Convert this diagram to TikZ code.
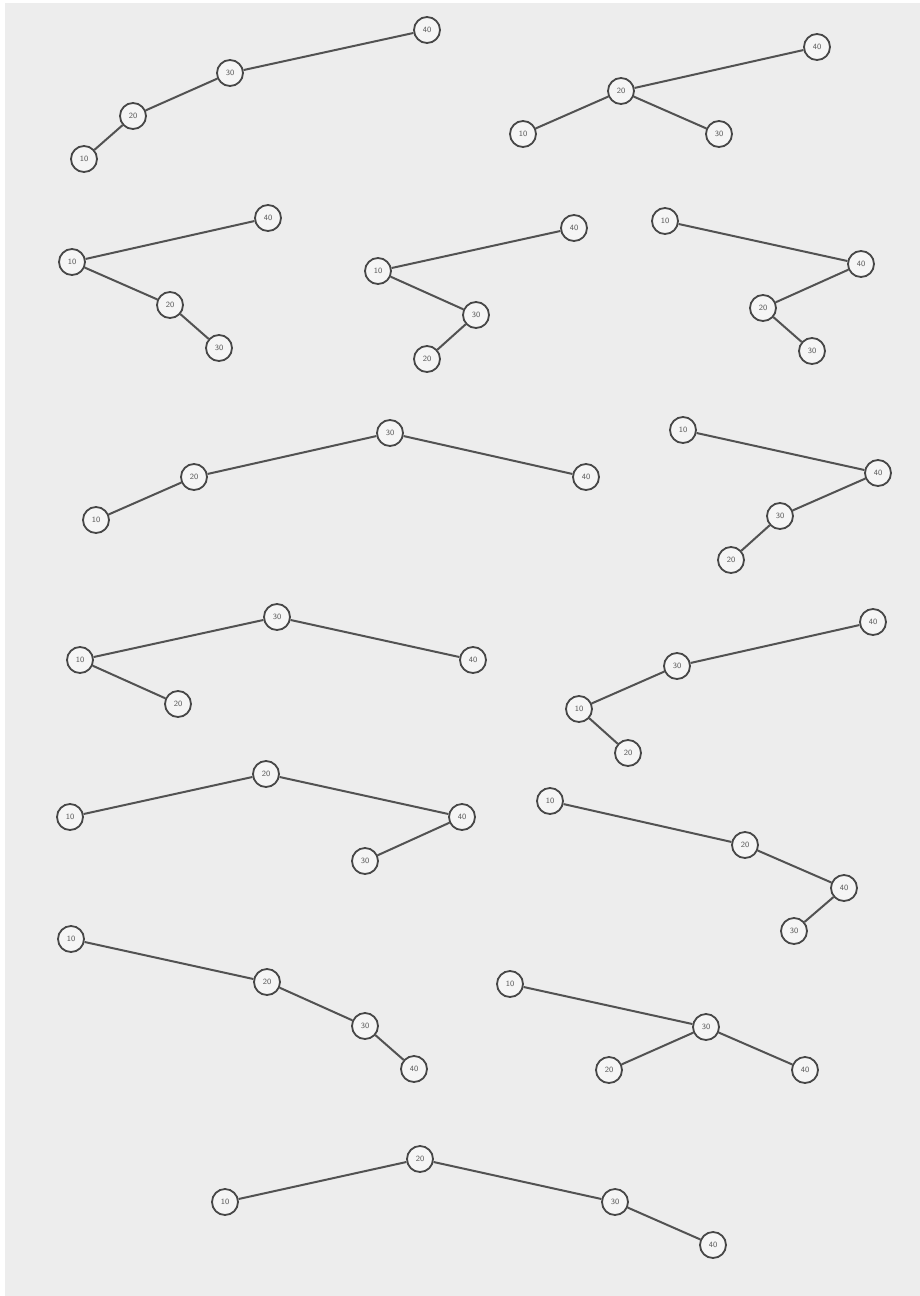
\documentclass[tikz,border=0pt]{standalone}
\begin{document}
\begin{tikzpicture}[x=1pt,y=-1pt,
  nd/.style={circle,draw=black!72,fill=black!4,line width=1.8pt,minimum size=26pt,inner sep=0pt,font=\sffamily\fontsize{8}{8}\selectfont,text=black!65},
  ed/.style={draw=black!68,line width=2pt}]
\fill[white] (0,0) rectangle (920,1296);
\fill[black!7] (5,3) rectangle (920,1296);
\useasboundingbox (0,0) rectangle (920,1296);
% tree 1
\node[nd] (a40) at (427,30) {40};
\node[nd] (a30) at (230,73) {30};
\node[nd] (a20) at (133,116) {20};
\node[nd] (a10) at (84,159) {10};
\draw[ed] (a40)--(a30) (a30)--(a20) (a20)--(a10);
% tree 2
\node[nd] (b40) at (817,47) {40};
\node[nd] (b20) at (621,91) {20};
\node[nd] (b10) at (523,134) {10};
\node[nd] (b30) at (719,134) {30};
\draw[ed] (b40)--(b20) (b20)--(b10) (b20)--(b30);
% tree 3
\node[nd] (c40) at (268,218) {40};
\node[nd] (c10) at (72,262) {10};
\node[nd] (c20) at (170,305) {20};
\node[nd] (c30) at (219,348) {30};
\draw[ed] (c40)--(c10) (c10)--(c20) (c20)--(c30);
% tree 4
\node[nd] (d40) at (574,228) {40};
\node[nd] (d10) at (378,271) {10};
\node[nd] (d30) at (476,315) {30};
\node[nd] (d20) at (427,359) {20};
\draw[ed] (d40)--(d10) (d10)--(d30) (d30)--(d20);
% tree 5
\node[nd] (e10) at (665,221) {10};
\node[nd] (e40) at (861,264) {40};
\node[nd] (e20) at (763,308) {20};
\node[nd] (e30) at (812,351) {30};
\draw[ed] (e10)--(e40) (e40)--(e20) (e20)--(e30);
% tree 6
\node[nd] (f30) at (390,433) {30};
\node[nd] (f20) at (194,477) {20};
\node[nd] (f10) at (96,520) {10};
\node[nd] (f40) at (586,477) {40};
\draw[ed] (f30)--(f20) (f20)--(f10) (f30)--(f40);
% tree 7
\node[nd] (g10) at (683,430) {10};
\node[nd] (g40) at (878,473) {40};
\node[nd] (g30) at (780,516) {30};
\node[nd] (g20) at (731,560) {20};
\draw[ed] (g10)--(g40) (g40)--(g30) (g30)--(g20);
% tree 8
\node[nd] (h30) at (277,617) {30};
\node[nd] (h10) at (80,660) {10};
\node[nd] (h20) at (178,704) {20};
\node[nd] (h40) at (473,660) {40};
\draw[ed] (h30)--(h10) (h10)--(h20) (h30)--(h40);
% tree 9
\node[nd] (i40) at (873,622) {40};
\node[nd] (i30) at (677,666) {30};
\node[nd] (i10) at (579,709) {10};
\node[nd] (i20) at (628,753) {20};
\draw[ed] (i40)--(i30) (i30)--(i10) (i10)--(i20);
% tree 10
\node[nd] (j20) at (266,774) {20};
\node[nd] (j10) at (70,817) {10};
\node[nd] (j40) at (462,817) {40};
\node[nd] (j30) at (365,861) {30};
\draw[ed] (j20)--(j10) (j20)--(j40) (j40)--(j30);
% tree 11
\node[nd] (k10) at (550,801) {10};
\node[nd] (k20) at (745,845) {20};
\node[nd] (k40) at (844,888) {40};
\node[nd] (k30) at (794,931) {30};
\draw[ed] (k10)--(k20) (k20)--(k40) (k40)--(k30);
% tree 12
\node[nd] (l10) at (71,939) {10};
\node[nd] (l20) at (267,982) {20};
\node[nd] (l30) at (365,1026) {30};
\node[nd] (l40) at (414,1069) {40};
\draw[ed] (l10)--(l20) (l20)--(l30) (l30)--(l40);
% tree 13
\node[nd] (m10) at (510,984) {10};
\node[nd] (m30) at (706,1027) {30};
\node[nd] (m20) at (609,1070) {20};
\node[nd] (m40) at (805,1070) {40};
\draw[ed] (m10)--(m30) (m30)--(m20) (m30)--(m40);
% tree 14
\node[nd] (n20) at (420,1159) {20};
\node[nd] (n10) at (225,1202) {10};
\node[nd] (n30) at (615,1202) {30};
\node[nd] (n40) at (713,1245) {40};
\draw[ed] (n20)--(n10) (n20)--(n30) (n30)--(n40);
\end{tikzpicture}
\end{document}
